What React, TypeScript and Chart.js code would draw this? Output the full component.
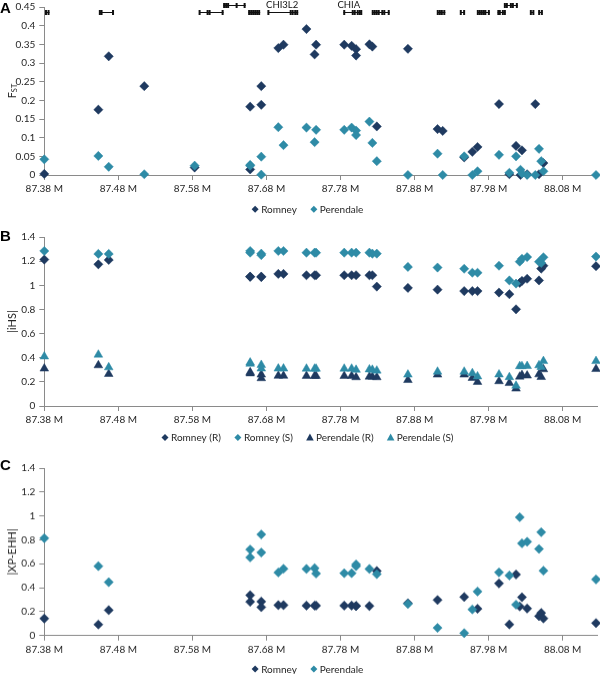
import React, { useEffect, useRef } from 'react';
import { Chart, registerables } from 'chart.js';
Chart.register(...registerables);

// ---------- data ----------
const xTicks = [87.38, 87.48, 87.58, 87.68, 87.78, 87.88, 87.98, 88.08];
const X_MIN = 87.38;
const X_MAX = 88.127;

const yTicksA = [0, 0.05, 0.1, 0.15, 0.2, 0.25, 0.3, 0.35, 0.4, 0.45];
const yTicksBC = [0, 0.2, 0.4, 0.6, 0.8, 1, 1.2, 1.4];

// Panel A: FST
const posA = [87.380, 87.453, 87.467, 87.515, 87.583, 87.658, 87.658, 87.673, 87.673, 87.696, 87.703, 87.734, 87.745, 87.747, 87.785, 87.795, 87.801, 87.801, 87.819, 87.823, 87.829, 87.871, 87.911, 87.918, 87.947, 87.958, 87.965, 87.994, 88.008, 88.017, 88.023, 88.025, 88.032, 88.043, 88.048, 88.051, 88.054, 88.125];
const fstRomney = [0.003, 0.175, 0.318, 0.238, 0.020, 0.183, 0.015, 0.238, 0.188, 0.340, 0.349, 0.391, 0.323, 0.349, 0.349, 0.346, 0.337, 0.320, 0.350, 0.344, 0.130, 0.338, 0.123, 0.118, 0.047, 0.062, 0.075, 0.190, 0.002, 0.078, 0.000, 0.066, 0.002, 0.190, 0.002, null, 0.032, null];
const fstPerendale = [0.042, 0.051, 0.022, 0.002, 0.025, 0.027, 0.025, 0.049, 0.001, 0.128, 0.080, 0.127, 0.088, 0.121, 0.121, 0.127, 0.119, 0.107, 0.143, 0.086, 0.037, 0.000, 0.057, 0.000, 0.050, 0.000, 0.010, 0.054, 0.006, 0.050, 0.014, 0.004, 0.000, 0.000, 0.070, 0.037, 0.010, 0.000];

// Panel B: |iHS|
const posB = [87.380, 87.453, 87.467, 87.658, 87.658, 87.673, 87.673, 87.696, 87.703, 87.734, 87.745, 87.747, 87.785, 87.795, 87.801, 87.819, 87.823, 87.829, 87.871, 87.911, 87.947, 87.958, 87.965, 87.994, 88.008, 88.017, 88.022, 88.025, 88.032, 88.048, 88.051, 88.054, 88.125];
const ihsRomneyR = [1.213, 1.174, 1.210, 1.072, 1.070, 1.072, 1.068, 1.094, 1.094, 1.083, 1.083, 1.083, 1.083, 1.083, 1.083, 1.083, 1.083, 0.989, 0.978, 0.964, 0.952, 0.952, 0.952, 0.940, 0.926, 0.801, 1.020, 1.036, 1.054, 1.040, 1.138, 1.162, 1.158];
const ihsRomneyS = [1.284, 1.260, 1.260, 1.284, 1.270, 1.262, 1.250, 1.284, 1.284, 1.270, 1.270, 1.270, 1.270, 1.270, 1.270, 1.270, 1.262, 1.262, 1.152, 1.147, 1.137, 1.104, 1.104, 1.162, 1.040, 1.014, 1.196, 1.220, 1.234, 1.195, 1.185, 1.232, 1.238];
const ihsPerendaleR = [0.310, 0.337, 0.265, 0.280, 0.270, 0.260, 0.230, 0.250, 0.250, 0.249, 0.249, 0.249, 0.249, 0.249, 0.238, 0.243, 0.243, 0.238, 0.215, 0.260, 0.260, 0.232, 0.199, 0.205, 0.190, 0.144, 0.243, 0.256, 0.252, 0.262, 0.240, 0.304, 0.306];
const ihsPerendaleS = [0.410, 0.425, 0.320, 0.360, 0.350, 0.340, 0.310, 0.310, 0.310, 0.309, 0.309, 0.309, 0.309, 0.309, 0.300, 0.303, 0.300, 0.293, 0.260, 0.284, 0.284, 0.272, 0.245, 0.261, 0.239, 0.168, 0.330, 0.330, 0.331, 0.337, 0.323, 0.372, 0.372];

// Panel C: |XP-EHH|
const posC = [87.380, 87.453, 87.467, 87.658, 87.658, 87.673, 87.673, 87.696, 87.703, 87.734, 87.745, 87.747, 87.785, 87.795, 87.801, 87.801, 87.819, 87.829, 87.871, 87.911, 87.947, 87.958, 87.965, 87.994, 88.008, 88.017, 88.022, 88.025, 88.032, 88.048, 88.051, 88.054, 88.125];
const xpRomney = [0.142, 0.092, 0.212, 0.337, 0.282, 0.284, 0.237, 0.254, 0.254, 0.250, 0.250, 0.250, 0.250, 0.250, 0.247, 0.247, 0.247, 0.540, 0.270, 0.297, 0.322, null, 0.224, 0.436, 0.093, 0.510, 0.243, 0.320, 0.226, 0.162, 0.189, 0.143, 0.104];
const xpPerendale = [0.814, 0.580, 0.446, 0.719, 0.653, 0.845, 0.694, 0.527, 0.558, 0.557, 0.563, 0.518, 0.521, 0.521, 0.594, 0.580, 0.557, 0.513, 0.264, 0.064, 0.020, 0.218, 0.368, 0.528, 0.502, 0.258, 0.989, 0.771, 0.784, 0.724, 0.864, 0.542, 0.469];

// Gene track (Mb)
const geneStart = [87.3816, 87.4543, 87.5891, 87.6557, 87.6819, 87.6219, 87.7841, 87.8224, 87.9103, 87.9418, 87.9643, 87.9922, 88.0012, 88.0364, 88.0476];
const geneEnd = [87.3870, 87.4732, 87.6219, 87.6715, 87.7228, 87.6519, 87.8089, 87.8462, 87.9215, 87.9476, 87.9814, 88.0026, 88.0192, 88.0408, 88.0526];
const geneRow = [0, 0, 0, 0, 0, 1, 0, 0, 0, 0, 0, 0, 1, 0, 0];
const exonPos = [87.3823, 87.3857, 87.4550, 87.4573, 87.4728, 87.5897, 87.6005, 87.6032, 87.6208, 87.6566, 87.6593, 87.6620, 87.6647, 87.6674, 87.6701, 87.6826, 87.7127, 87.7154, 87.7188, 87.7215, 87.6228, 87.6255, 87.6282, 87.6397, 87.6505, 87.7850, 87.7965, 87.7992, 87.8032, 87.8059, 87.8080, 87.8235, 87.8262, 87.8289, 87.8316, 87.8364, 87.8391, 87.8451, 87.9113, 87.9141, 87.9168, 87.9201, 87.9424, 87.9469, 87.9654, 87.9681, 87.9708, 87.9735, 87.9756, 87.9803, 87.9931, 87.9951, 87.9992, 88.0019, 88.0019, 88.0046, 88.0100, 88.0127, 88.0181, 88.0370, 88.0404, 88.0482, 88.0519];
const exonGene = [0, 0, 1, 1, 1, 2, 2, 2, 2, 3, 3, 3, 3, 3, 3, 4, 4, 4, 4, 4, 5, 5, 5, 5, 5, 6, 6, 6, 6, 6, 6, 7, 7, 7, 7, 7, 7, 7, 8, 8, 8, 8, 9, 9, 10, 10, 10, 10, 10, 10, 11, 11, 11, 11, 12, 12, 12, 12, 12, 13, 13, 14, 14];
const geneLabels = ['CHI3L2', 'CHIA'];
const geneLabelPos = [87.7012, 87.7911];

// ---------- styles ----------
const ROMNEY = '#1f3a60';
const PERENDALE = '#2e8ba6';
const AXIS = '#8a8a8a';
const TEXT = '#262626';
const FAMILY = 'Lato, "Open Sans", sans-serif';
const ROW_LEVEL = [0.436, 0.4555];
const CANVAS_W = 603;

function pts(pos: number[], vals: (number | null)[]) {
  const out: { x: number; y: number }[] = [];
  pos.forEach((p, i) => {
    const v = vals[i];
    if (v !== null && v !== undefined) out.push({ x: p, y: v });
  });
  return out;
}

function ds(label: string, data: any[], color: string, style: string, order: number) {
  return {
    label,
    data,
    pointStyle: style,
    pointRadius: style === 'triangle' ? 5 : 4.6,
    pointHoverRadius: 5,
    pointBackgroundColor: color,
    pointBorderColor: color,
    backgroundColor: color,
    borderColor: color,
    pointBorderWidth: 0.5,
    showLine: false,
    clip: false,
    order,
  };
}

const decorPlugin = {
  id: 'decor',
  afterDraw(chart: any, _args: any, opts: any) {
    const { ctx, chartArea } = chart;
    const cy = (chartArea.top + chartArea.bottom) / 2;
    // y-axis title
    ctx.save();
    ctx.fillStyle = TEXT;
    ctx.translate(opts.titleX, cy);
    ctx.rotate(-Math.PI / 2);
    ctx.textBaseline = 'middle';
    ctx.font = `11px ${FAMILY}`;
    const mainW = ctx.measureText(opts.title).width;
    let subW = 0;
    if (opts.sub) {
      ctx.font = `7.5px ${FAMILY}`;
      subW = ctx.measureText(opts.sub).width;
    }
    const x0 = -(mainW + subW) / 2;
    ctx.font = `11px ${FAMILY}`;
    ctx.textAlign = 'left';
    ctx.fillText(opts.title, x0, 0);
    if (opts.sub) {
      ctx.font = `7.5px ${FAMILY}`;
      ctx.fillText(opts.sub, x0 + mainW, 3);
    }
    ctx.restore();
    // panel letter
    ctx.save();
    ctx.fillStyle = '#000';
    ctx.font = 'bold 15px "Liberation Sans", Arial, sans-serif';
    ctx.textAlign = 'left';
    ctx.textBaseline = 'alphabetic';
    ctx.fillText(opts.letter, 0, opts.letterY);
    ctx.restore();
    // legend
    ctx.save();
    ctx.font = `10px ${FAMILY}`;
    ctx.textBaseline = 'middle';
    ctx.textAlign = 'left';
    const mr = 3.5;
    const textGap = 6;
    const spacing = 13.5;
    const items = chart.data.datasets.map((d: any) => ({
      label: d.label,
      color: d.pointBackgroundColor,
      style: d.pointStyle,
      w: mr + textGap + ctx.measureText(d.label).width,
    }));
    const total = items.reduce((s: number, it: any) => s + it.w, 0) + spacing * (items.length - 1);
    let x = opts.legendCenter - total / 2;
    const y = opts.legendY;
    items.forEach((it: any) => {
      const cx = x + mr;
      ctx.fillStyle = it.color;
      ctx.beginPath();
      if (it.style === 'triangle') {
        ctx.moveTo(cx, y - 4);
        ctx.lineTo(cx + 3.8, y + 2.8);
        ctx.lineTo(cx - 3.8, y + 2.8);
      } else {
        ctx.moveTo(cx, y - mr);
        ctx.lineTo(cx + mr, y);
        ctx.lineTo(cx, y + mr);
        ctx.lineTo(cx - mr, y);
      }
      ctx.closePath();
      ctx.fill();
      ctx.fillStyle = TEXT;
      ctx.fillText(it.label, cx + textGap, y + 0.5);
      x += it.w + spacing;
    });
    ctx.restore();
  },
};

const genePlugin = {
  id: 'genes',
  afterDatasetsDraw(chart: any) {
    const { ctx } = chart;
    const xs = chart.scales.x;
    const ys = chart.scales.y;
    ctx.save();
    ctx.strokeStyle = '#111';
    ctx.fillStyle = '#111';
    ctx.lineWidth = 1;
    geneStart.forEach((s, i) => {
      const y = Math.round(ys.getPixelForValue(ROW_LEVEL[geneRow[i]])) + 0.5;
      ctx.beginPath();
      ctx.moveTo(xs.getPixelForValue(s), y);
      ctx.lineTo(xs.getPixelForValue(geneEnd[i]), y);
      ctx.stroke();
    });
    exonPos.forEach((p, i) => {
      const y = Math.round(ys.getPixelForValue(ROW_LEVEL[geneRow[exonGene[i]]]));
      const x = xs.getPixelForValue(p);
      ctx.fillRect(x - 1, y - 2, 2, 5);
    });
    ctx.font = `9.5px ${FAMILY}`;
    ctx.textAlign = 'center';
    ctx.textBaseline = 'middle';
    geneLabels.forEach((t, i) => {
      ctx.fillText(t, xs.getPixelForValue(geneLabelPos[i]), ys.getPixelForValue(ROW_LEVEL[1]) - 0.5);
    });
    ctx.restore();
  },
};

type Panel = {
  top: number;
  height: number;
  yTicks: number[];
  padBottom: number;
  legendY: number;
  datasets: any[];
  title: string;
  sub?: string;
  letter: string;
  letterY: number;
  genes?: boolean;
};

const panels: Panel[] = [
  {
    top: -3.3,
    height: 226,
    yTicks: yTicksA,
    padBottom: 25,
    legendY: 209 + 3.3,
    title: 'F',
    sub: 'ST',
    letter: 'A',
    letterY: 12.7 + 3.3,
    genes: true,
    datasets: [
      ds('Romney', pts(posA, fstRomney), ROMNEY, 'rectRot', 2),
      ds('Perendale', pts(posA, fstPerendale), PERENDALE, 'rectRot', 1),
    ],
  },
  {
    top: 226.7,
    height: 222,
    yTicks: yTicksBC,
    padBottom: 20,
    legendY: 437.3 - 226.7,
    title: '|iHS|',
    letter: 'B',
    letterY: 240.7 - 226.7,
    datasets: [
      ds('Romney (R)', pts(posB, ihsRomneyR), ROMNEY, 'rectRot', 4),
      ds('Romney (S)', pts(posB, ihsRomneyS), PERENDALE, 'rectRot', 3),
      ds('Perendale (R)', pts(posB, ihsPerendaleR), ROMNEY, 'triangle', 2),
      ds('Perendale (S)', pts(posB, ihsPerendaleS), PERENDALE, 'triangle', 1),
    ],
  },
  {
    top: 458.3,
    height: 215.7,
    yTicks: yTicksBC,
    padBottom: 15.3,
    legendY: 668.3 - 458.3,
    title: '|XP-EHH|',
    letter: 'C',
    letterY: 470.7 - 458.3,
    datasets: [
      ds('Romney', pts(posC, xpRomney), ROMNEY, 'rectRot', 2),
      ds('Perendale', pts(posC, xpPerendale), PERENDALE, 'rectRot', 1),
    ],
  },
];

function makeConfig(p: Panel): any {
  const yMax = p.yTicks[p.yTicks.length - 1];
  const plugins: any[] = [decorPlugin];
  if (p.genes) plugins.push(genePlugin);
  return {
    type: 'scatter',
    data: { datasets: p.datasets },
    plugins,
    options: {
      animation: false,
      responsive: false,
      maintainAspectRatio: false,
      layout: { padding: { left: 14, right: 0.5, top: 0, bottom: p.padBottom } },
      scales: {
        x: {
          type: 'linear',
          min: X_MIN,
          max: X_MAX,
          afterBuildTicks: (s: any) => {
            s.ticks = xTicks.map((v) => ({ value: v }));
          },
          ticks: {
            autoSkip: false,
            maxRotation: 0,
            padding: 3,
            color: TEXT,
            font: { size: 10, family: FAMILY },
            callback: (v: any) => Number(v).toFixed(2) + ' M',
          },
          grid: { drawOnChartArea: false, drawTicks: true, tickLength: 5, color: AXIS },
          border: { display: true, color: AXIS },
        },
        y: {
          type: 'linear',
          min: 0,
          max: yMax,
          afterBuildTicks: (s: any) => {
            s.ticks = p.yTicks.map((v) => ({ value: v }));
          },
          afterFit: (s: any) => {
            s.width = 30.3;
          },
          ticks: {
            padding: 4,
            color: TEXT,
            font: { size: 10, family: FAMILY },
            callback: (v: any) => String(Number(Number(v).toFixed(2))),
          },
          grid: { drawOnChartArea: false, drawTicks: true, tickLength: 5, color: AXIS },
          border: { display: true, color: AXIS },
        },
      },
      plugins: {
        legend: { display: false },
        tooltip: { enabled: false },
        decor: {
          title: p.title,
          sub: p.sub,
          titleX: 12,
          letter: p.letter,
          letterY: p.letterY,
          legendY: p.legendY,
          legendCenter: 307.5,
        },
      },
    },
  };
}

export default function App() {
  const refs = [useRef<HTMLCanvasElement>(null), useRef<HTMLCanvasElement>(null), useRef<HTMLCanvasElement>(null)];
  useEffect(() => {
    const charts = panels.map((p, i) => new Chart(refs[i].current as HTMLCanvasElement, makeConfig(p)));
    return () => charts.forEach((c) => c.destroy());
  }, []);
  return (
    <div style={{ position: 'absolute', left: 0, top: 0, width: 600, height: 674, background: '#fff', overflow: 'hidden' }}>
      {panels.map((p, i) => (
        <canvas
          key={i}
          ref={refs[i]}
          width={CANVAS_W}
          height={p.height}
          style={{ position: 'absolute', left: 0, top: p.top, width: CANVAS_W, height: p.height }}
        />
      ))}
    </div>
  );
}
